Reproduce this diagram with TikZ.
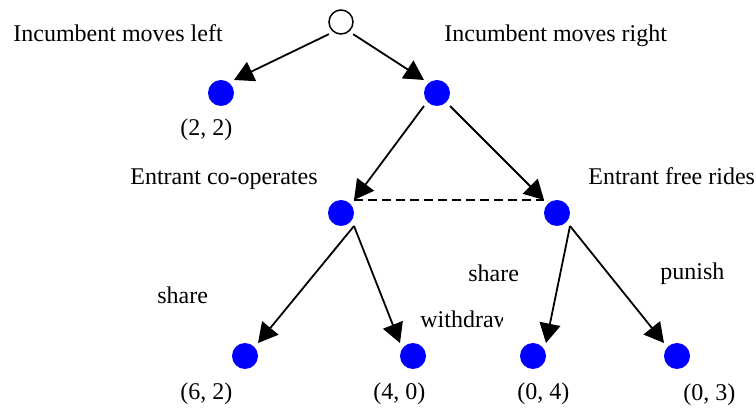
\documentclass[tikz,border=0pt]{standalone}
\usepackage{fontspec}
\setmainfont{Liberation Serif}
\usetikzlibrary{arrows.meta}

\begin{document}
\begin{tikzpicture}[
  x=0.5pt,
  y=-0.5pt,
  every node/.style={font=\fontsize{12}{14}\selectfont, inner sep=0pt},
  start/.style={circle, draw, line width=0.75pt, fill=white, minimum size=12pt, outer sep=2.6pt},
  dot/.style={circle, fill=blue, minimum size=13pt, outer sep=2.7pt},
  move/.style={line width=0.9pt, -{Triangle[length=9.75pt, width=10.5pt]}},
  info/.style={line width=0.9pt, dash pattern=on 4.5pt off 2.5pt}
]
  \useasboundingbox (0,0) rectangle (756,411);

  % ---- decision points ------------------------------------------------
  \node[start] (root) at (341,22) {};
  \node[dot] (incl) at (221,93) {};
  \node[dot] (incr) at (437,93) {};
  \node[dot] (coop) at (341,213) {};
  \node[dot] (free) at (557,213) {};

  % ---- end points -----------------------------------------------------
  \node[dot] (end1) at (245,356) {};
  \node[dot] (end2) at (413,356) {};
  \node[dot] (end3) at (533,356) {};
  \node[dot] (end4) at (677,356) {};

  % ---- incumbent's moves ----------------------------------------------
  \draw[move] (root.south west) -- (incl.north east);
  \draw[move] (root.south east) -- (incr.north west);
  \node[anchor=base west] (lblleft) at (13,42) {Incumbent moves left};
  \node[anchor=base west] (lblright) at (444,42) {Incumbent moves right};
  \node[anchor=base west] (pay22) at (180,136) {(2, 2)};

  % ---- entrant's moves ------------------------------------------------
  \draw[move] (incr.south west) -- (coop.north east);
  \draw[move] (incr.south east) -- (free.north west);
  \draw[info] (coop.north east) -- (free.north west);
  \node[anchor=base east] (lblcoop) at (318,185) {Entrant co-operates};
  \node[anchor=base west] (lblfree) at (588,185) {Entrant free rides};

  % ---- incumbent's reply ----------------------------------------------
  \draw[move] (coop.south east) -- (end1.north east);
  \draw[move] (coop.south east) -- (end2.north west);
  \draw[move] (free.south east) -- (end3.north east);
  \draw[move] (free.south east) -- (end4.north west);
  \node[anchor=base west] (lblshare1) at (157,304) {share};
  \begin{scope}
    \clip (400,300) rectangle (502,340);
    \node[anchor=base west] (lblwithdraw) at (420,328) {withdraw};
  \end{scope}
  \node[anchor=base west] (lblshare2) at (468,282) {share};
  \node[anchor=base west] (lblpunish) at (660,280) {punish};

  % ---- pay-offs -------------------------------------------------------
  \node[anchor=base west] (pay62) at (180,400) {(6, 2)};
  \node[anchor=base west] (pay40) at (373,400) {(4, 0)};
  \node[anchor=base west] (pay04) at (517,400) {(0, 4)};
  \node[anchor=base west] (pay03) at (683,401) {(0, 3)};
\end{tikzpicture}
\end{document}
